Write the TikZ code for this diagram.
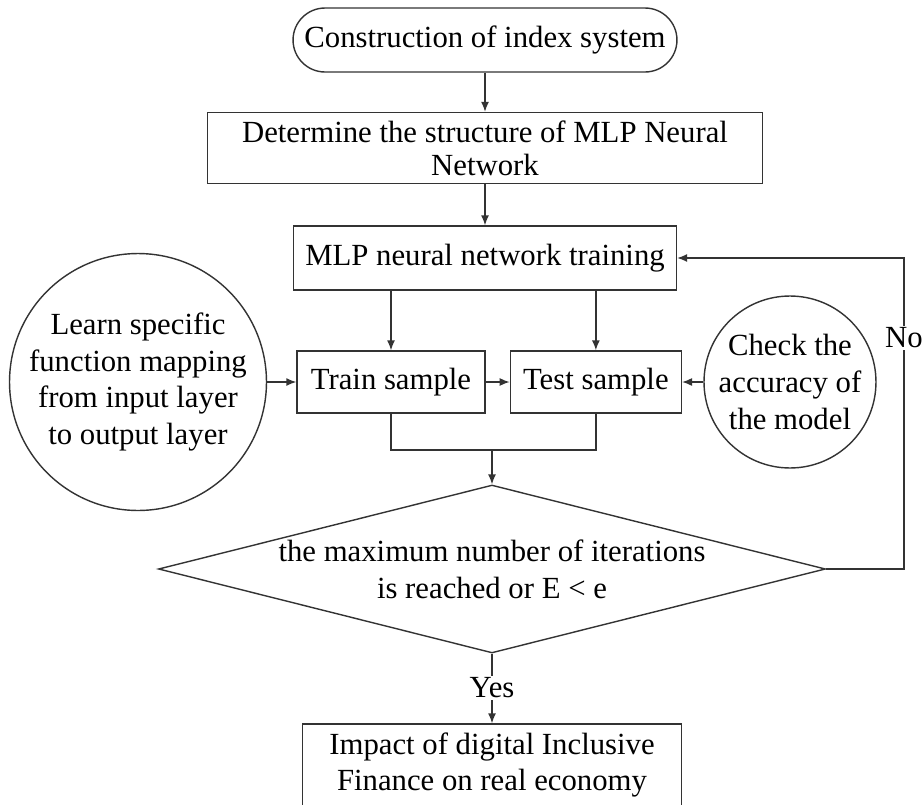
\documentclass[tikz,border=0pt]{standalone}
\usepackage{fontspec}
\setmainfont{Liberation Serif}
\usepackage{tikz}
\usetikzlibrary{shapes.geometric,positioning,arrows.meta}

\begin{document}
\begin{tikzpicture}[x=0.02cm, y=-0.02cm, font=\fontsize{17.5}{21}\selectfont]
\tikzstyle{box}=[rectangle, draw=black!80, line width=0.8pt, align=center, inner sep=2pt]
\tikzstyle{term}=[box, rounded corners=0.64cm, minimum width=7.68cm, minimum height=1.28cm]
\tikzstyle{bubble}=[circle, draw=black!80, line width=0.8pt, align=center, inner sep=-0.3cm]
\tikzstyle{decide}=[diamond, draw=black!80, line width=0.8pt, align=center, aspect=4, inner sep=-0.3cm, minimum width=13.34cm, minimum height=3.36cm]
\tikzstyle{connect}=[-{Latex[length=2mm, width=1.6mm]}, draw=black!80, line width=0.8pt]
\tikzstyle{tag}=[fill=white, inner sep=1pt]
  \useasboundingbox (0,0) rectangle (924,805);
  \node[term] (start) at (485,40) {Construction of index system};
  \node[box, minimum width=11.1cm, minimum height=1.42cm, font=\fontsize{17.5}{18.7}\selectfont] (struct) at (485,148) {Determine the structure of MLP Neural\\Network};
  \node[box, minimum width=7.66cm, minimum height=1.28cm] (mlp) at (485,258) {MLP neural network training};
  \node[box, minimum width=3.76cm, minimum height=1.24cm] (train) at (391,382) {Train sample};
  \node[box, minimum width=3.42cm, minimum height=1.24cm] (test) [right=0.48cm of train] {Test sample};
  \node[bubble, minimum size=5.14cm] (learn) at (138,382) {Learn specific\\function mapping\\from input layer\\to output layer};
  \node[bubble, minimum size=3.44cm] (check) at (790,382) {Check the\\accuracy of\\the model};
  \node[decide] (cond) at (492,569) {the maximum number of iterations\\is reached or E < e};
  \node[box, minimum width=7.58cm, minimum height=1.64cm] (result) at (492,765) {Impact of digital Inclusive\\Finance on real economy};
  \coordinate (merge) at (492,450);
  \coordinate (back) at (904,258);
  \path (start) edge [connect] (struct)
        (struct) edge [connect] (mlp)
        (train |- mlp.south) edge [connect] (train)
        (test |- mlp.south) edge [connect] (test)
        (learn) edge [connect] (train)
        (train) edge [connect] (test)
        (check) edge [connect] (test)
        (merge) edge [connect] (cond)
        (cond) edge [connect] (result);
  \draw[draw=black!80, line width=0.8pt] (train) |- (merge) -| (test);
  \draw[connect] (cond.east) -| (back) -- (mlp.east);
  \node[tag] (no) at (904,338) {No};
  \node[tag] (yes) at (492,688) {Yes};
\end{tikzpicture}
\end{document}
